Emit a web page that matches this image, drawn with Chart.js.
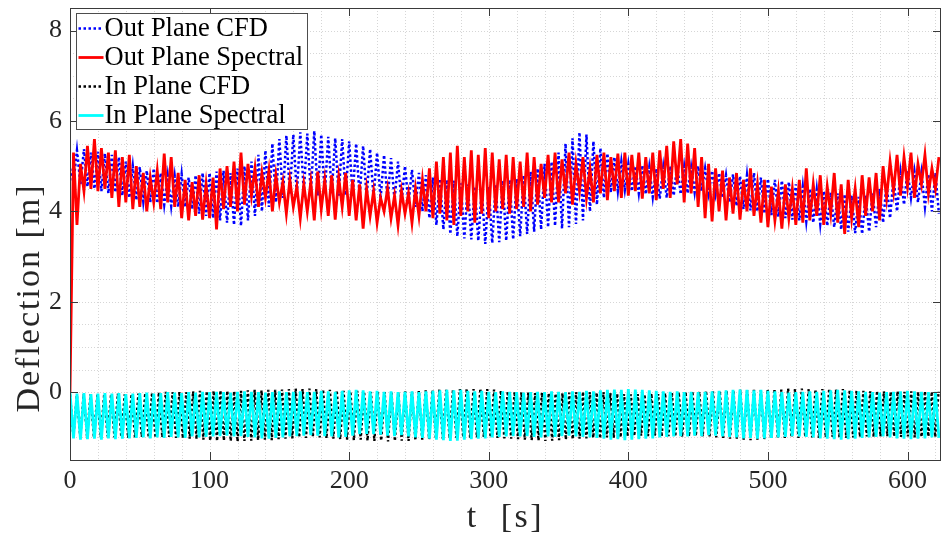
<!DOCTYPE html>
<html>
<head>
<meta charset="utf-8">
<script src="https://cdn.jsdelivr.net/npm/chart.js@4"></script>
<style>
html, body { margin: 0; padding: 0; background: #fff; }
#wrap { width: 942px; height: 536px; }
</style>
</head>
<body>
<div id="wrap"><canvas id="grafico" width="942" height="536"></canvas></div>
<script>
// sample step of each record, in seconds
const dtOut = 2.5;
const dtInSpec = 2.5;
const dtInCfd = 2.45;

const seriesNames = ['Out Plane CFD', 'Out Plane Spectral', 'In Plane CFD', 'In Plane Spectral'];

// out of plane deflection, CFD (blue dotted)
const outPlaneCfd = [
    4.95, 4.65, 5.35, 4.6, 5.38, 4.55, 5.3, 4.5, 5.32, 4.45, 5.28, 4.4, 5.25, 4.42, 5.2, 4.35, 5.1, 4.3, 5.0, 4.25,
    4.98, 4.22, 4.9, 4.2, 4.95, 4.18, 4.85, 4.15, 4.8, 4.12, 4.78, 4.1, 4.82, 4.1, 4.75, 4.05, 4.8, 3.95, 4.85, 3.9,
    4.85, 3.85, 4.88, 3.8, 4.9, 3.75, 4.85, 3.7, 4.95, 3.68, 5.0, 3.8, 5.1, 3.9, 5.25, 4.0, 5.35, 4.1, 5.5, 4.2,
    5.6, 4.3, 5.68, 4.4, 5.7, 4.38, 5.75, 4.42, 5.72, 4.4, 5.78, 4.35, 5.7, 4.38, 5.65, 4.4, 5.62, 4.35, 5.6, 4.36,
    5.55, 4.35, 5.5, 4.32, 5.45, 4.3, 5.38, 4.3, 5.3, 4.28, 5.25, 4.25, 5.18, 4.25, 5.1, 4.2, 5.0, 4.18, 4.92, 4.1,
    4.85, 4.0, 4.8, 3.85, 4.75, 3.7, 4.72, 3.6, 4.7, 3.5, 4.68, 3.45, 4.62, 3.4, 4.6, 3.38, 4.55, 3.35, 4.5, 3.28,
    4.55, 3.3, 4.6, 3.32, 4.68, 3.35, 4.7, 3.38, 4.72, 3.45, 4.8, 3.5, 4.88, 3.55, 4.95, 3.6, 5.05, 3.65, 5.1, 3.68,
    5.3, 3.62, 5.5, 3.65, 5.62, 3.72, 5.75, 3.8, 5.7, 4.0, 5.55, 4.15, 5.4, 4.3, 5.28, 4.42, 5.2, 4.45, 5.1, 4.48,
    5.05, 4.45, 5.0, 4.4, 5.02, 4.38, 4.98, 4.32, 4.95, 4.28, 4.98, 4.3, 5.0, 4.35, 5.02, 4.38, 5.0, 4.4, 4.98, 4.42,
    5.0, 4.45, 4.95, 4.4, 4.9, 4.38, 4.85, 4.3, 4.8, 4.2, 4.82, 4.12, 4.78, 4.05, 4.8, 4.02, 4.85, 4.0, 4.75, 3.95,
    4.72, 3.92, 4.7, 3.88, 4.68, 3.85, 4.65, 3.82, 4.6, 3.8, 4.55, 3.78, 4.5, 3.75, 4.48, 3.72, 4.45, 3.68, 4.42, 3.65,
    4.4, 3.6, 4.38, 3.55, 4.35, 3.52, 4.32, 3.5, 4.35, 3.55, 4.4, 3.65, 4.5, 3.75, 4.62, 3.85, 4.75, 4.0, 4.85, 4.15,
    4.9, 4.3, 4.88, 4.2, 4.85, 4.1, 4.82, 4.0, 4.85, 3.95
];

// out of plane deflection, spectral model (red)
const outPlaneSpectral = [
    0.0, 5.3, 3.7, 5.05, 4.45, 5.45, 4.5, 5.6, 4.45, 5.4, 4.5, 5.3, 4.3, 5.35, 4.1, 5.2, 4.2, 5.25, 4.05, 5.0,
    4.1, 4.85, 4.0, 4.75, 4.2, 4.9, 4.05, 5.28, 4.2, 5.2, 4.1, 4.85, 3.85, 4.7, 3.8, 4.65, 3.9, 4.8, 3.82, 4.6,
    3.85, 4.75, 3.6, 4.95, 4.05, 5.0, 4.1, 5.1, 4.0, 5.3, 4.15, 5.05, 4.35, 4.95, 4.1, 4.85, 4.3, 4.9, 4.0, 4.8,
    4.2, 4.65, 3.95, 4.7, 4.1, 4.55, 3.85, 4.6, 4.0, 4.65, 3.8, 4.88, 4.05, 4.7, 3.9, 4.8, 3.82, 4.75, 4.1, 4.85,
    3.9, 4.7, 3.8, 4.6, 3.62, 4.5, 3.9, 4.45, 3.75, 4.3, 4.0, 4.5, 3.85, 4.35, 3.7, 4.45, 3.95, 4.4, 3.75, 4.5,
    3.9, 4.7, 4.0, 4.95, 3.85, 5.1, 3.95, 5.2, 3.8, 5.3, 3.7, 5.45, 3.9, 5.2, 4.0, 5.35, 3.75, 5.25, 3.95, 5.4,
    3.85, 5.3, 4.0, 5.15, 4.05, 5.25, 3.95, 5.2, 4.05, 5.1, 4.1, 5.3, 4.0, 5.2, 4.15, 5.05, 4.3, 5.25, 4.2, 5.3,
    4.2, 5.15, 4.4, 5.3, 4.15, 5.05, 4.45, 5.2, 4.3, 4.95, 4.2, 5.25, 4.4, 5.3, 4.25, 5.2, 4.45, 5.28, 4.3, 5.3,
    4.35, 5.25, 4.45, 5.3, 4.28, 5.2, 4.4, 5.3, 4.25, 5.35, 4.5, 5.45, 4.3, 5.55, 4.6, 5.6, 4.2, 5.5, 4.4, 5.4,
    4.1, 5.2, 3.85, 5.05, 3.78, 4.95, 4.0, 4.9, 3.8, 4.75, 3.95, 4.85, 3.82, 4.7, 4.0, 4.95, 3.9, 4.6, 3.75, 4.7,
    3.65, 4.55, 3.8, 4.45, 3.62, 4.6, 3.85, 4.5, 3.7, 4.7, 3.75, 4.95, 3.8, 4.6, 3.9, 4.8, 3.7, 4.55, 3.95, 4.85,
    3.75, 4.6, 3.5, 4.7, 3.85, 4.5, 3.65, 4.8, 3.9, 4.75, 4.0, 4.85, 3.8, 5.0, 4.3, 5.1, 4.45, 5.25, 4.35, 5.2,
    4.55, 5.3, 4.3, 5.05, 4.6, 5.25, 4.4, 4.95, 4.5, 5.2
];

// in plane deflection, CFD (black dotted)
const inPlaneCfd = [
    -0.05, -0.98, -0.06, -1.0, -0.04, -0.99, -0.05, -1.01, -0.06, -1.0, -0.04, -0.98, -0.05, -1.0, -0.03, -0.99, -0.05, -1.01, -0.04, -1.0,
    -0.03, -0.99, -0.02, -1.0, -0.01, -1.01, 0.0, -1.0, 0.01, -0.99, 0.0, -1.01, 0.01, -1.02, 0.0, -1.03, 0.02, -1.04, 0.03, -1.05,
    0.02, -1.07, 0.03, -1.08, 0.04, -1.07, 0.03, -1.08, 0.02, -1.09, 0.03, -1.08, 0.04, -1.07, 0.05, -1.06, 0.04, -1.05, 0.05, -1.06,
    0.05, -1.04, 0.06, -1.03, 0.07, -1.02, 0.08, -1.0, 0.07, -1.01, 0.08, -0.99, 0.07, -1.0, 0.06, -1.02, 0.05, -1.03, 0.04, -1.04,
    0.03, -1.05, 0.02, -1.06, 0.03, -1.05, 0.01, -1.07, 0.0, -1.08, 0.01, -1.07, 0.0, -1.09, -0.01, -1.08, 0.0, -1.07, 0.02, -1.08,
    0.01, -1.06, 0.03, -1.05, 0.04, -1.04, 0.05, -1.03, 0.06, -1.03, 0.05, -1.02, 0.06, -1.01, 0.07, -1.0, 0.08, -1.01, 0.07, -1.0,
    0.08, -0.99, 0.07, -1.0, 0.06, -1.01, 0.04, -1.02, 0.02, -1.03, 0.01, -1.04, 0.0, -1.05, -0.01, -1.06, -0.02, -1.07, -0.01, -1.08,
    -0.02, -1.07, -0.03, -1.06, -0.02, -1.05, -0.01, -1.04, 0.0, -1.03, 0.01, -1.02, 0.0, -1.01, -0.01, -1.02, 0.0, -1.0, -0.02, -1.01,
    -0.03, -1.0, -0.04, -0.98, -0.05, -0.97, -0.04, -0.96, -0.05, -0.97, -0.03, -0.96, -0.04, -0.98, -0.02, -0.97, -0.01, -0.98, 0.0, -0.99,
    0.01, -0.98, 0.02, -0.97, 0.01, -0.98, 0.03, -0.99, 0.02, -1.0, 0.03, -1.01, 0.04, -1.03, 0.03, -1.04, 0.05, -1.05, 0.04, -1.06,
    0.05, -1.05, 0.04, -1.04, 0.06, -1.03, 0.07, -1.02, 0.06, -1.01, 0.08, -1.0, 0.07, -1.01, 0.08, -0.99, 0.07, -1.0, 0.06, -1.01,
    0.07, -1.0, 0.08, -0.99, 0.06, -1.0, 0.07, -1.01, 0.05, -1.0, 0.04, -0.99, 0.03, -0.98, 0.02, -0.99, 0.03, -0.98, 0.02, -0.97,
    0.01, -0.98, 0.02, -0.99, 0.01, -0.98, 0.02, -1.0, 0.01, -0.99, 0.02, -0.98, 0.01, -0.99, 0.02
];

// in plane deflection, spectral model (cyan)
const inPlaneSpectral = [
    0.0, -1.02, -0.03, -1.05, -0.02, -1.04, -0.04, -1.03, -0.03, -1.05, -0.02, -1.02, -0.03, -1.04, -0.02, -1.03, -0.04, -1.02, -0.03, -1.01,
    -0.02, -1.0, -0.01, -1.02, -0.03, -1.0, -0.02, -1.01, 0.0, -0.99, -0.01, -1.0, -0.02, -1.01, 0.0, -0.98, -0.01, -1.0, 0.01, -0.99,
    0.0, -0.98, 0.01, -0.97, 0.0, -0.96, -0.01, -0.98, 0.01, -0.97, 0.02, -0.99, 0.01, -1.0, 0.0, -1.02, -0.01, -1.03, 0.0, -1.01,
    0.02, -1.0, 0.0, -0.98, 0.01, -0.97, 0.02, -0.96, 0.0, -0.95, 0.01, -0.96, 0.03, -0.97, 0.02, -0.98, 0.01, -1.0, 0.03, -0.99,
    0.04, -0.96, 0.05, -0.93, 0.04, -0.92, 0.02, -0.93, 0.03, -0.94, 0.01, -0.96, 0.02, -0.97, 0.0, -0.95, 0.01, -0.98, 0.02, -1.0,
    0.0, -1.01, 0.02, -1.03, 0.03, -1.05, 0.04, -1.06, 0.05, -1.08, 0.04, -1.07, 0.05, -1.05, 0.03, -1.04, 0.02, -1.03, 0.03, -1.02,
    0.01, -1.0, 0.0, -0.99, 0.02, -0.98, 0.01, -0.97, 0.0, -0.98, -0.01, -0.97, 0.0, -0.99, 0.01, -1.0, 0.0, -0.98, 0.02, -0.99,
    0.01, -0.97, 0.0, -0.96, 0.02, -0.98, 0.01, -0.99, 0.03, -1.0, 0.02, -1.01, 0.04, -1.03, 0.05, -1.05, 0.06, -1.04, 0.05, -1.06,
    0.07, -1.05, 0.06, -1.04, 0.05, -1.03, 0.04, -1.02, 0.03, -1.0, 0.02, -0.99, 0.01, -0.98, 0.02, -0.97, 0.0, -0.98, 0.01, -0.96,
    0.0, -0.97, 0.01, -0.95, 0.02, -0.96, 0.03, -0.98, 0.04, -0.99, 0.05, -1.0, 0.06, -1.02, 0.05, -1.01, 0.04, -1.03, 0.05, -1.02,
    0.03, -1.01, 0.02, -1.0, 0.0, -0.99, -0.01, -0.97, 0.0, -0.98, 0.01, -0.99, 0.02, -1.0, 0.01, -1.02, 0.03, -1.03, 0.04, -1.04,
    0.05, -1.05, 0.04, -1.04, 0.03, -1.03, 0.02, -1.01, 0.01, -1.0, 0.0, -0.99, -0.01, -0.98, 0.0, -1.0, 0.01, -1.02, 0.02, -1.03,
    0.03, -1.04, 0.02, -1.03, 0.01, -1.02, 0.0, -1.0, 0.01, -1.01
];

// axis ranges and tick labels
const tMin = 0;
const tMax = 624;
const yMin = -1.5;
const yMax = 8.5;
const xTickLabels = [0, 100, 200, 300, 400, 500, 600];
const yTickLabels = [0, 2, 4, 6, 8];

const serif = "'Liberation Serif', 'Times New Roman', serif";
const axisColor = '#3a3a3a';

function toPoints(values, dt) {
    return values.map((v, i) => ({ x: i * dt, y: v }));
}

const styles = [
    { color: '#0000ff', width: 2.5, dash: [2.5, 2.5] },
    { color: '#ff0000', width: 2.8, dash: [] },
    { color: '#000000', width: 2.4, dash: [2.5, 2.5] },
    { color: '#00ffff', width: 2.8, dash: [] },
];

// grid, box, inner tick marks, legend and axis titles
const axesPlugin = {
    id: 'axesBox',
    beforeDatasetsDraw(chart) {
        const { ctx, chartArea: a, scales: { x, y } } = chart;
        ctx.save();
        ctx.strokeStyle = '#d6d6d6';
        ctx.lineWidth = 1;
        ctx.setLineDash([1, 2]);
        for (let t = tMin; t <= tMax; t += 20) {
            const px = Math.round(x.getPixelForValue(t)) + 0.5;
            ctx.beginPath(); ctx.moveTo(px, a.top); ctx.lineTo(px, a.bottom); ctx.stroke();
        }
        for (let v = yMin; v <= yMax; v += 0.5) {
            const py = Math.round(y.getPixelForValue(v)) + 0.5;
            ctx.beginPath(); ctx.moveTo(a.left, py); ctx.lineTo(a.right, py); ctx.stroke();
        }
        ctx.restore();
    },
    afterDatasetsDraw(chart) {
        const { ctx, chartArea: a, scales: { x, y } } = chart;
        ctx.save();
        ctx.strokeStyle = axisColor;
        ctx.lineWidth = 1;
        ctx.strokeRect(a.left + 0.5, a.top + 0.5, a.right - a.left - 1, a.bottom - a.top);
        const len = 8;
        ctx.beginPath();
        xTickLabels.forEach((t) => {
            const px = Math.round(x.getPixelForValue(t)) + 0.5;
            ctx.moveTo(px, a.bottom); ctx.lineTo(px, a.bottom - len);
            ctx.moveTo(px, a.top); ctx.lineTo(px, a.top + len);
        });
        yTickLabels.forEach((v) => {
            const py = Math.round(y.getPixelForValue(v)) + 0.5;
            ctx.moveTo(a.left, py); ctx.lineTo(a.left + len, py);
            ctx.moveTo(a.right, py); ctx.lineTo(a.right - len, py);
        });
        ctx.stroke();

        // legend box in the upper left corner
        const lx = a.left + 6.5, ly = a.top + 5.5, lw = 231, lh = 116;
        ctx.fillStyle = '#ffffff';
        ctx.fillRect(lx, ly, lw, lh);
        ctx.strokeStyle = '#4d4d4d';
        ctx.strokeRect(lx, ly, lw, lh);
        ctx.font = '26.5px ' + serif;
        ctx.textBaseline = 'middle';
        ctx.textAlign = 'left';
        seriesNames.forEach((name, i) => {
            const cy = ly + 15 + i * 29;
            const s = styles[i];
            ctx.strokeStyle = s.color;
            ctx.lineWidth = s.width;
            ctx.setLineDash(s.dash);
            ctx.beginPath(); ctx.moveTo(lx + 2, cy); ctx.lineTo(lx + 27, cy); ctx.stroke();
            ctx.setLineDash([]);
            ctx.fillStyle = '#000000';
            ctx.fillText(name, lx + 28, cy + 1);
        });
        ctx.restore();
    },
    afterDraw(chart) {
        const { ctx, chartArea: a } = chart;
        ctx.save();
        ctx.fillStyle = '#262626';
        ctx.font = '34px ' + serif;
        ctx.textAlign = 'center';
        ctx.textBaseline = 'middle';
        ctx.letterSpacing = '2.5px';
        ctx.fillText('t  [s]', (a.left + a.right) / 2, 518);
        ctx.letterSpacing = '2px';
        ctx.translate(30, 298);
        ctx.rotate(-Math.PI / 2);
        ctx.fillText('Deflection [m]', 0, 0);
        ctx.restore();
    },
};

const datasets = [
    { label: seriesNames[0], data: toPoints(outPlaneCfd, dtOut), order: 4 },
    { label: seriesNames[1], data: toPoints(outPlaneSpectral, dtOut), order: 3 },
    { label: seriesNames[2], data: toPoints(inPlaneCfd, dtInCfd), order: 2 },
    { label: seriesNames[3], data: toPoints(inPlaneSpectral, dtInSpec), order: 1 },
].map((d, i) => Object.assign(d, {
    borderColor: styles[i].color,
    borderWidth: styles[i].width,
    borderDash: styles[i].dash,
    borderCapStyle: 'butt',
    borderJoinStyle: 'miter',
    pointRadius: 0,
    tension: 0,
    fill: false,
}));

new Chart(document.getElementById('grafico'), {
    type: 'line',
    data: { datasets },
    options: {
        responsive: false,
        animation: false,
        devicePixelRatio: 1,
        layout: { padding: { top: 8, right: 1, left: 0, bottom: 0 } },
        plugins: { legend: { display: false }, tooltip: { enabled: false } },
        scales: {
            x: {
                type: 'linear',
                min: tMin,
                max: tMax,
                afterFit: (s) => { s.height = 76; s.paddingLeft = 0; s.paddingRight = 0; },
                afterBuildTicks: (s) => { s.ticks = xTickLabels.map((v) => ({ value: v })); },
                grid: { display: false, drawTicks: false },
                border: { display: false },
                ticks: {
                    autoSkip: false,
                    maxRotation: 0,
                    padding: 6,
                    color: '#262626',
                    font: { family: serif, size: 26 },
                },
            },
            y: {
                type: 'linear',
                min: yMin,
                max: yMax,
                afterFit: (s) => { s.width = 70; s.paddingTop = 0; s.paddingBottom = 0; },
                afterBuildTicks: (s) => { s.ticks = yTickLabels.map((v) => ({ value: v })); },
                grid: { display: false, drawTicks: false },
                border: { display: false },
                ticks: {
                    padding: 8,
                    color: '#262626',
                    font: { family: serif, size: 26 },
                },
            },
        },
    },
    plugins: [axesPlugin],
});
</script>
</body>
</html>
